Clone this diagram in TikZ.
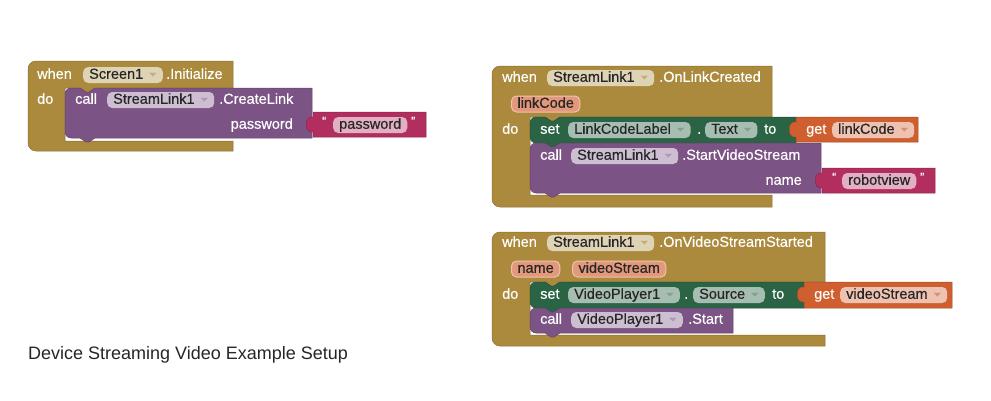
\documentclass[tikz,border=0pt]{standalone}
\usepackage{fontspec}
\setmainfont{Liberation Sans}
\newfontfamily\blockface[FakeBold=0.4]{Liberation Sans}
\newfontfamily\ddfont{DejaVu Sans}
\usepackage{graphicx}
\usepackage{tikz}
\usetikzlibrary{positioning}

\definecolor{mustard}{HTML}{AB8A3E}
\definecolor{callpurple}{HTML}{7C5385}
\definecolor{setgreen}{HTML}{2A6445}
\definecolor{getorange}{HTML}{CF5F2E}
\definecolor{textred}{HTML}{B12E5E}
\definecolor{paramfill}{HTML}{E2987A}
\definecolor{paramedge}{HTML}{F0C2AE}

\newcommand{\blockfont}{\blockface\fontsize{14.5}{17}\selectfont}
\newcommand{\ddarrow}[1]{\hspace{6pt}\raisebox{2.5pt}{\scalebox{1.1}[0.55]{\ddfont\fontsize{9}{9}\selectfont\color{#1}▼}}}

% event block: left, top, right, input top, input left, input bottom, bottom
\newcommand{\eventblock}[7]{%
  \filldraw[blockedge=mustard] (#1,#2+8) arc[start angle=180, end angle=270, radius=8]
    -- (#3,#2) -- (#3,#4) -- (#5+30,#4) -- (#5+24,#4+4) -- (#5+21,#4+4) -- (#5+15,#4)
    -- (#5,#4) -- (#5,#6) -- (#3,#6) -- (#3,#7) -- (#1+8,#7)
    arc[start angle=90, end angle=180, radius=8] -- cycle;}
% statement block: colour, left, top, right, bottom
\newcommand{\stmtblock}[5]{%
  \filldraw[blockedge=#1] (#2,#3+6) arc[start angle=180, end angle=270, radius=6]
    -- (#2+15,#3) -- (#2+21,#3+4) -- (#2+24,#3+4) -- (#2+30,#3) -- (#4,#3) -- (#4,#5)
    -- (#2+30,#5) -- (#2+24,#5+4) -- (#2+21,#5+4) -- (#2+15,#5) -- (#2+6,#5)
    arc[start angle=90, end angle=180, radius=6] -- cycle;}
% value block: colour, left, top, right, bottom
\newcommand{\valueblock}[5]{%
  \filldraw[blockedge=#1] (#2,#3) -- (#4,#3) -- (#4,#5) -- (#2,#5) -- (#2,#3+20)
    .. controls (#2-9,#3+22) and (#2-9,#3+3) .. (#2,#3+5) -- cycle;}

\tikzset{
  blockedge/.style={fill=#1, draw=#1!80!black, line width=0.5pt},
  lbl/.style={text=white, anchor=west, inner sep=0pt, font=\blockfont,
    text height=10.5pt, text depth=3pt},
  pill/.style={fill=#1, rounded corners=5pt, anchor=west, inner xsep=6pt,
    inner ysep=0pt, minimum height=16pt, text=black!85, font=\blockfont,
    text height=10.5pt, text depth=3pt},
  param/.style={pill=paramfill, draw=paramedge, line width=1pt},
  quote/.style={text=white, anchor=west, inner sep=0pt, font=\blockface\fontsize{12}{12}\selectfont}
}

\begin{document}
\begin{tikzpicture}[x=1pt, y=-1pt]
  \useasboundingbox (0,0) rectangle (991,400);

  % screen init
  \eventblock{28}{61}{233}{88}{65}{141}{151}
  \stmtblock{callpurple}{65}{88}{312}{138}
  \valueblock{textred}{313}{112}{426}{137}
  \node[lbl] (when1) at (37,75) {when};
  \node[pill=white!62!mustard] (scr1) at (83,75) {Screen1\ddarrow{mustard!70!white}};
  \node[lbl] (init1) at (166,75) {.Initialize};
  \node[lbl] (do1) at (37,100) {do};
  \node[lbl] (call1) at (75,100) {call};
  \node[pill=white!62!callpurple] (link1) at (107,100) {StreamLink1\ddarrow{callpurple!60!white}};
  \node[lbl] (create1) at (219,100) {.CreateLink};
  \node[lbl, anchor=east] (pw1) at (293,125) {password};
  \node[quote] (qa1) at (322,121) {“};
  \node[pill=white!62!textred] (pwv1) at (333,125) {password};
  \node[quote] (qb1) at (411,121) {”};

  % link created
  \eventblock{492}{66}{772}{117}{530}{195}{207}
  \stmtblock{setgreen}{530}{117}{796}{143}
  \stmtblock{callpurple}{530}{143}{821}{193}
  \valueblock{getorange}{796}{117}{918}{142}
  \valueblock{textred}{822}{168}{935}{193}
  \node[lbl] (when2) at (502,78) {when};
  \node[pill=white!62!mustard] (link2) at (547,78) {StreamLink1\ddarrow{mustard!70!white}};
  \node[lbl] (created2) at (659,78) {.OnLinkCreated};
  \node[param] (code2) at (511,104) {linkCode};
  \node[lbl] (do2) at (502,130) {do};
  \node[lbl] (set2) at (540,130) {set};
  \node[pill=white!58!setgreen] (label2) at (568,130) {LinkCodeLabel\ddarrow{setgreen!60!white}};
  \node[lbl] (dot2) at (697,130) {.};
  \node[pill=white!58!setgreen] (text2) at (705,130) {Text\ddarrow{setgreen!60!white}};
  \node[lbl] (to2) at (764,130) {to};
  \node[lbl] (get2) at (806,130) {get};
  \node[pill=white!62!getorange] (getv2) at (832,130) {linkCode\ddarrow{getorange!70!white}};
  \node[lbl] (call2) at (540,156) {call};
  \node[pill=white!62!callpurple] (link3) at (571,156) {StreamLink1\ddarrow{callpurple!60!white}};
  \node[lbl] (start2) at (682,156) {.StartVideoStream};
  \node[lbl, anchor=east] (name2) at (802,181) {name};
  \node[quote] (qa2) at (832,177) {“};
  \node[pill=white!62!textred] (robot2) at (842,181) {robotview};
  \node[quote] (qb2) at (920,177) {”};

  % video started
  \eventblock{492}{232}{825}{282}{530}{335}{346}
  \stmtblock{setgreen}{530}{282}{804}{308}
  \stmtblock{callpurple}{530}{308}{733}{333}
  \valueblock{getorange}{804}{282}{952}{308}
  \node[lbl] (when3) at (502,243) {when};
  \node[pill=white!62!mustard] (link4) at (547,243) {StreamLink1\ddarrow{mustard!70!white}};
  \node[lbl] (started3) at (659,243) {.OnVideoStreamStarted};
  \node[param] (name3) at (511,269) {name};
  \node[param] (stream3) at (572,269) {videoStream};
  \node[lbl] (do3) at (502,295) {do};
  \node[lbl] (set3) at (540,295) {set};
  \node[pill=white!58!setgreen] (player3) at (568,295) {VideoPlayer1\ddarrow{setgreen!60!white}};
  \node[lbl] (dot3) at (684,295) {.};
  \node[pill=white!58!setgreen] (source3) at (693,295) {Source\ddarrow{setgreen!60!white}};
  \node[lbl] (to3) at (772,295) {to};
  \node[lbl] (get3) at (814,295) {get};
  \node[pill=white!62!getorange] (getv3) at (840,295) {videoStream\ddarrow{getorange!70!white}};
  \node[lbl] (call3) at (540,320) {call};
  \node[pill=white!62!callpurple] (player4) at (571,320) {VideoPlayer1\ddarrow{callpurple!60!white}};
  \node[lbl] (start3) at (688,320) {.Start};

  % caption
  \node[anchor=west, inner sep=0pt, text=black!85, font=\fontsize{18}{20}\selectfont] (caption) at (28,355) {Device Streaming Video Example Setup};
\end{tikzpicture}
\end{document}
